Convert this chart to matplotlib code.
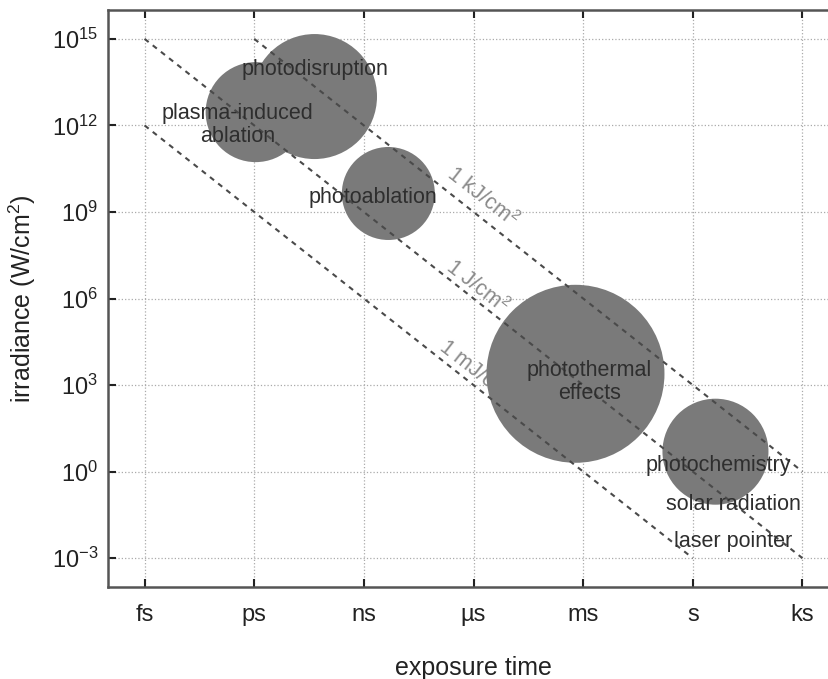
import matplotlib
matplotlib.use('Agg')
import matplotlib.pyplot as plt
import numpy as np

plt.rcParams['font.family'] = ['Liberation Sans', 'DejaVu Sans']
plt.rcParams['mathtext.fontset'] = 'custom'
plt.rcParams['mathtext.rm'] = 'Liberation Sans'
plt.rcParams['mathtext.it'] = 'Liberation Sans'

# exposure time ticks
time_ticks = [1e-15, 1e-12, 1e-9, 1e-6, 1e-3, 1e0, 1e3]
time_labels = ['fs', 'ps', 'ns', '\u00b5s', 'ms', 's', 'ks']
irr_ticks = [1e-3, 1e0, 1e3, 1e6, 1e9, 1e12, 1e15]
irr_labels = [r'$10^{-3}$', r'$10^{0}$', r'$10^{3}$', r'$10^{6}$', r'$10^{9}$', r'$10^{12}$', r'$10^{15}$']

# interaction regimes: centre time (s), centre irradiance (W/cm2), bubble diameter (px)
regime_time = [10**-11.96, 10**-10.35, 10**-8.33, 10**-3.21, 10**0.62]
regime_irr = [10**12.46, 10**13.0, 10**9.64, 10**3.39, 10**0.69]
regime_size = [100, 125, 93, 178, 106]

# region labels
label_text = ['photodisruption', 'plasma-induced\nablation', 'photoablation',
              'photothermal\neffects', 'photochemistry', 'solar radiation', 'laser pointer']
label_time = [10**-10.35, 10**-12.46, 10**-8.76, 10**-2.83, 10**0.70, 10**1.11, 10**1.11]
label_irr = [10**13.93, 10**12.02, 10**9.51, 10**3.11, 10**0.21, 10**-1.14, 10**-2.42]

# constant fluence lines (start time, end time, fluence J/cm2)
fluence = [1e-3, 1e0, 1e3]
fluence_start = [1e-15, 1e-15, 1e-12]
fluence_end = [1e0, 1e3, 1e3]
fluence_text = ['1 mJ/cm$^2$', '1 J/cm$^2$', '1 kJ/cm$^2$']
fluence_lbl_t = [10**-5.89, 10**-5.89, 10**-5.75]
fluence_lbl_i = [10**3.45, 10**6.42, 10**9.5]

fig = plt.figure(figsize=(8.29, 6.79), dpi=100)
ax = fig.add_axes([108/829, (679-587)/679, (839-108)/829, (587-10)/679])
ax.set_xscale('log')
ax.set_yscale('log')
ax.set_xlim(1e-16, 1e4)
ax.set_ylim(1e-4, 1e16)

px = 0.72  # points per pixel at 100 dpi
ax.scatter(regime_time, regime_irr, s=[(d*px)**2 for d in regime_size],
           color='#7a7a7a', edgecolors='none', zorder=3)

for t0, t1, F in zip(fluence_start, fluence_end, fluence):
    t = np.array([t0, t1])
    ax.plot(t, F/t, color='#4a4a4a', lw=1.5, ls=(0, (2.5, 2.5)), zorder=4)

for txt, t, i in zip(fluence_text, fluence_lbl_t, fluence_lbl_i):
    ax.text(t, i, txt, color='#8a8a8a', fontsize=15.5, rotation=-38,
            ha='center', va='center', rotation_mode='anchor', zorder=2)

for txt, t, i in zip(label_text, label_time, label_irr):
    ax.text(t, i, txt, color='#2e2e2e', fontsize=15.5, ha='center', va='center',
            linespacing=1.1, zorder=5)

ax.set_xticks(time_ticks)
ax.set_xticklabels(time_labels)
ax.set_yticks(irr_ticks)
ax.set_yticklabels(irr_labels)
ax.minorticks_off()
ax.tick_params(direction='in', length=6, width=1.5, color='#222222',
               labelsize=17, labelcolor='#222222', top=True, right=False)
ax.tick_params(axis='x', pad=12)
ax.tick_params(axis='y', pad=7)
ax.grid(True, ls=':', color='#aaaaaa', lw=0.9)
ax.set_axisbelow(True)
for sp in ax.spines.values():
    sp.set_color('#555555')
    sp.set_linewidth(1.8)

ax.set_xlabel('exposure time', fontsize=18, color='#222222', labelpad=22)
ax.set_ylabel('irradiance (W/cm$^2$)', fontsize=18, color='#222222', labelpad=10)

fig.savefig('out.png', dpi=100)
